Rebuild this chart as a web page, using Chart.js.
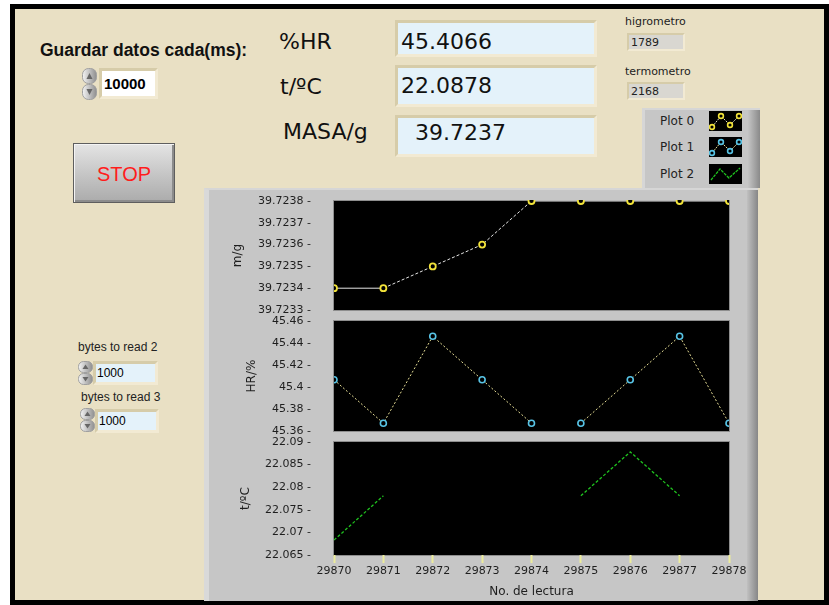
<!DOCTYPE html>
<html>
<head>
<meta charset="utf-8">
<script src="https://cdn.jsdelivr.net/npm/chart.js@4.4.1/dist/chart.umd.min.js"></script>
<style>
  html, body { margin: 0; padding: 0; background: #fff; }
  body { width: 829px; height: 605px; position: relative; overflow: hidden;
         font-family: "Liberation Sans", Arial, sans-serif; color: #111; }
  .abs { position: absolute; }
  .txt { position: absolute; white-space: nowrap; line-height: 1; }
  #frame { left: 10px; top: 4px; width: 819px; height: 601px; border: 5px solid #000;
           box-sizing: border-box; background: #E9E0C4; }
  .ind { position: absolute; box-sizing: border-box; border: 3px solid;
         border-color: #d6cca9 #f2ead3 #f2ead3 #d6cca9; background: #E4F2FA; }
  .ind.grey { background: #d9d7d1; border-width: 2px; }
  .ind.white { background: #fff; }
  .big { font-family: "DejaVu Sans", sans-serif; font-size: 22px; }
  .val { font-family: "DejaVu Sans", sans-serif; font-size: 22px; color: #111; }
  .small { font-family: "DejaVu Sans", sans-serif; font-size: 11px; color: #222; }
  #stop { left: 73px; top: 143px; width: 102px; height: 60px; box-sizing: border-box;
          border: 1px solid #5e5e5e; background: linear-gradient(#e4e4e4, #c4c4c4 55%, #ababab);
          box-shadow: inset 1px 1px 0 #f4f4f4, inset -2px -2px 0 #8c8c8c; }
  #stop span { position: absolute; left: 0; right: 0; top: 20px; text-align: center;
               font-size: 20px; color: #ff1c1c; line-height: 1; }
  #graphPanel { left: 204px; top: 188px; width: 554px; height: 413px; background: #c6c6c6;
                box-sizing: border-box; border-left: 5px solid #d9d9d9; border-top: 2px solid #d6d6d6; }
  #graphPanel .shade { position: absolute; right: 0; top: 0; width: 11px; height: 100%;
                       background: linear-gradient(to right, #c0c0c0, #878787); }
  #legendBox { left: 642px; top: 108px; width: 118px; height: 80px; background: #c6c6c6;
               box-sizing: border-box; border-left: 3px solid #d6d6d6; border-top: 2px solid #d6d6d6; }
  #legendBox .shade { position: absolute; right: 0; top: 0; width: 12px; height: 100%;
                      background: linear-gradient(to right, #c4c4c4, #8a8a8a); }
  .legTxt { font-family: "DejaVu Sans", sans-serif; font-size: 12px; color: #222; }
  canvas { position: absolute; }
</style>
</head>
<body>
<div id="frame" class="abs"></div>

<!-- left-hand controls -->
<div class="txt" style="left:40px;top:42px;font-weight:bold;font-size:17.5px;">Guardar datos cada(ms):</div>
<svg class="abs" style="left:82px;top:68px" width="15" height="32" viewBox="0 0 15 32">
  <defs><linearGradient id="spinGrad" x1="0" x2="1"><stop offset="0" stop-color="#f4f4f4"/><stop offset="1" stop-color="#8e8e8e"/></linearGradient></defs>
  <rect x="0.5" y="0.5" width="14" height="15" rx="6" fill="url(#spinGrad)" stroke="#a0a0a0"/>
  <rect x="0.5" y="16.5" width="14" height="15" rx="6" fill="url(#spinGrad)" stroke="#a0a0a0"/>
  <path d="M4.5 11 L7.5 5 L10.5 11Z" fill="#666"/>
  <path d="M4.5 21 L7.5 27 L10.5 21Z" fill="#666"/>
</svg>
<div class="ind white" style="left:99px;top:68px;width:59px;height:31px;"></div>
<div class="txt" style="left:104px;top:76px;font-size:15px;font-weight:bold;color:#000;">10000</div>

<div id="stop" class="abs"><span>STOP</span></div>

<div class="txt" style="left:78px;top:341px;font-size:12px;color:#222;">bytes to read 2</div>
<svg class="abs" style="left:78px;top:361px" width="15" height="24" viewBox="0 0 15 24">
  <rect x="0.5" y="0.5" width="14" height="11" rx="5" fill="url(#spinGrad)" stroke="#a0a0a0"/>
  <rect x="0.5" y="12.5" width="14" height="11" rx="5" fill="url(#spinGrad)" stroke="#a0a0a0"/>
  <path d="M4.5 8 L7.5 3.5 L10.5 8Z" fill="#666"/>
  <path d="M4.5 16 L7.5 20.5 L10.5 16Z" fill="#666"/>
</svg>
<div class="ind" style="left:93px;top:361px;width:65px;height:24px;"></div>
<div class="txt" style="left:97px;top:367px;font-size:12px;color:#000;">1000</div>

<div class="txt" style="left:81px;top:391px;font-size:12px;color:#222;">bytes to read 3</div>
<svg class="abs" style="left:80px;top:408px" width="15" height="24" viewBox="0 0 15 24">
  <rect x="0.5" y="0.5" width="14" height="11" rx="5" fill="url(#spinGrad)" stroke="#a0a0a0"/>
  <rect x="0.5" y="12.5" width="14" height="11" rx="5" fill="url(#spinGrad)" stroke="#a0a0a0"/>
  <path d="M4.5 8 L7.5 3.5 L10.5 8Z" fill="#666"/>
  <path d="M4.5 16 L7.5 20.5 L10.5 16Z" fill="#666"/>
</svg>
<div class="ind" style="left:95px;top:409px;width:64px;height:24px;"></div>
<div class="txt" style="left:99px;top:415px;font-size:12px;color:#000;">1000</div>

<!-- readouts -->
<div class="txt big" style="left:279px;top:31px;">%HR</div>
<div class="txt big" style="left:280px;top:76px;">t/ºC</div>
<div class="txt big" style="left:283px;top:121px;">MASA/g</div>

<div class="ind" style="left:395px;top:20px;width:202px;height:37px;"></div>
<div class="txt val" style="left:401px;top:31px;">45.4066</div>
<div class="ind" style="left:395px;top:65px;width:202px;height:42px;"></div>
<div class="txt val" style="left:401px;top:75px;">22.0878</div>
<div class="ind" style="left:395px;top:115px;width:202px;height:42px;"></div>
<div class="txt val" style="left:415px;top:122px;">39.7237</div>

<div class="txt small" style="left:625px;top:16px;">higrometro</div>
<div class="ind grey" style="left:627px;top:33px;width:58px;height:18px;"></div>
<div class="txt small" style="left:631px;top:37px;">1789</div>
<div class="txt small" style="left:625px;top:66px;">termometro</div>
<div class="ind grey" style="left:627px;top:82px;width:58px;height:18px;"></div>
<div class="txt small" style="left:631px;top:86px;">2168</div>

<!-- plot legend -->
<div id="legendBox" class="abs"><div class="shade"></div></div>
<div class="txt legTxt" style="left:660px;top:115px;">Plot 0</div>
<div class="txt legTxt" style="left:660px;top:141px;">Plot 1</div>
<div class="txt legTxt" style="left:660px;top:168px;">Plot 2</div>
<svg class="abs" style="left:709px;top:111px" width="33" height="20" viewBox="0 0 33 20">
  <rect width="33" height="20" fill="#000"/>
  <polyline points="3,16 12,5 21,14 30,5" fill="none" stroke="#e6e2c0" stroke-width="1" stroke-dasharray="2 1"/>
  <g fill="#000" stroke="#f2e33a" stroke-width="1.6"><circle cx="3" cy="16" r="2.4"/><circle cx="12" cy="5" r="2.4"/><circle cx="21" cy="14" r="2.4"/><circle cx="30" cy="5" r="2.4"/></g>
</svg>
<svg class="abs" style="left:709px;top:137px" width="33" height="20" viewBox="0 0 33 20">
  <rect width="33" height="20" fill="#000"/>
  <polyline points="3,16 12,5 21,14 30,5" fill="none" stroke="#e4dc94" stroke-width="1" stroke-dasharray="2 1"/>
  <g fill="#000" stroke="#58c4e6" stroke-width="1.6"><circle cx="3" cy="16" r="2.4"/><circle cx="12" cy="5" r="2.4"/><circle cx="21" cy="14" r="2.4"/><circle cx="30" cy="5" r="2.4"/></g>
</svg>
<svg class="abs" style="left:709px;top:164px" width="33" height="20" viewBox="0 0 33 20">
  <rect width="33" height="20" fill="#000"/>
  <polyline points="2,16 11,5 20,14 31,4" fill="none" stroke="#1fc21f" stroke-width="1.3" stroke-dasharray="3 1"/>
</svg>

<!-- strip chart panel -->
<div id="graphPanel" class="abs"><div class="shade"></div></div>
<canvas id="massChart" width="556" height="130" style="left:204px;top:188px"></canvas>
<canvas id="humidityChart" width="556" height="126" style="left:204px;top:312px"></canvas>
<canvas id="temperatureChart" width="556" height="168" style="left:204px;top:433px"></canvas>

<script>
// Reading numbers along the shared x axis
const readings = [29870, 29871, 29872, 29873, 29874, 29875, 29876, 29877, 29878];

// Logged series (null = no sample logged)
const massValues = [39.7234, 39.7234, 39.7235, 39.7236, 39.7238, 39.7238, 39.7238, 39.7238, 39.7238];
const humidityValues = [45.4066, 45.3671, 45.4461, 45.4066, 45.3671, 45.3671, 45.4066, 45.4461, 45.3671];
const temperatureValues = [22.0683, 22.0781, null, null, null, 22.0781, 22.0878, 22.0781, null];

// Y tick values of each strip
const massTicks = [39.7233, 39.7234, 39.7235, 39.7236, 39.7237, 39.7238];
const humidityTicks = [45.36, 45.38, 45.4, 45.42, 45.44, 45.46];
const temperatureTicks = [22.065, 22.07, 22.075, 22.08, 22.085, 22.09];

const axisTitles = { mass: 'm/g', humidity: 'HR/%', temperature: 't/ºC', x: 'No. de lectura' };

const tickFont = { family: 'DejaVu Sans', size: 11 };
const titleFont = { family: 'DejaVu Sans', size: 12 };
const textColor = '#1e1e1e';

// Black plot area with a thin grey frame
const plotBackground = {
  id: 'plotBackground',
  beforeDraw(chart) {
    const { ctx, chartArea: a } = chart;
    ctx.save();
    ctx.fillStyle = '#000';
    ctx.fillRect(a.left, a.top, a.right - a.left, a.bottom - a.top);
    ctx.strokeStyle = '#8e8e8e';
    ctx.lineWidth = 1;
    ctx.strokeRect(a.left - 0.5, a.top - 0.5, a.right - a.left + 1, a.bottom - a.top + 1);
    ctx.restore();
  }
};

const isFlat = c => c.p0.parsed.y === c.p1.parsed.y;

// Fixed-size axis boxes so the three strips share the same plot edges
const fixYAxis = s => {
  s.width = 130;
  s.paddingTop = 0; s.paddingBottom = 0;
};
const fixXAxis = s => {
  s.height = 46;
  s.paddingLeft = 0; s.paddingRight = 0;
};

function stripChart(canvasId, opt) {
  return new Chart(document.getElementById(canvasId), {
    type: 'line',
    data: { labels: readings, datasets: [opt.dataset] },
    options: {
      responsive: false,
      animation: false,
      devicePixelRatio: 1,
      events: [],
      layout: { padding: opt.padding },
      plugins: { legend: { display: false }, tooltip: { enabled: false } },
      scales: {
        x: opt.x || { type: 'category', display: false },
        y: {
          type: 'linear',
          min: opt.ticks[0],
          max: opt.ticks[opt.ticks.length - 1],
          afterBuildTicks: s => { s.ticks = opt.ticks.map(v => ({ value: v })); },
          afterFit: fixYAxis,
          grid: { display: false, drawTicks: false },
          border: { display: false },
          ticks: { font: tickFont, color: textColor, padding: 23, callback: v => v + ' -' },
          title: { display: true, text: opt.title, font: titleFont, color: textColor,
                   padding: { top: opt.titlePad, bottom: 0 } }
        }
      }
    },
    plugins: [plotBackground]
  });
}

stripChart('massChart', {
  ticks: massTicks,
  title: axisTitles.mass,
  titlePad: 27,
  padding: { left: 0, top: 13, right: 31, bottom: 8 },
  dataset: {
    data: massValues,
    borderColor: '#e6e6e6',
    borderWidth: 1,
    segment: { borderDash: c => isFlat(c) ? [] : [3, 2] },
    pointRadius: 3,
    pointBorderWidth: 1.8,
    pointBorderColor: '#f2e33a',
    pointBackgroundColor: '#000',
    tension: 0,
    clip: { left: 0, top: 1, right: 0, bottom: 0 }
  }
});

stripChart('humidityChart', {
  ticks: humidityTicks,
  title: axisTitles.humidity,
  titlePad: 41,
  padding: { left: 0, top: 9, right: 31, bottom: 7 },
  dataset: {
    data: humidityValues,
    borderColor: '#e4dc94',
    borderWidth: 1,
    borderDash: [2, 2],
    segment: { borderColor: c => isFlat(c) ? 'rgba(0,0,0,0)' : undefined },
    pointRadius: 3,
    pointBorderWidth: 1.6,
    pointBorderColor: '#58c4e6',
    pointBackgroundColor: '#000',
    tension: 0,
    clip: 0
  }
});

stripChart('temperatureChart', {
  ticks: temperatureTicks,
  title: axisTitles.temperature,
  titlePad: 35,
  padding: { left: 0, top: 9, right: 31, bottom: 0 },
  x: {
    type: 'category',
    afterFit: fixXAxis,
    grid: { display: true, drawOnChartArea: false, drawTicks: true, tickLength: 8,
            tickWidth: 2, tickColor: '#ecec9c', offset: false },
    border: { display: false },
    ticks: { font: tickFont, color: textColor, padding: 2, maxRotation: 0, autoSkip: false },
    title: { display: true, text: axisTitles.x, font: titleFont, color: textColor,
             padding: { top: 0, bottom: 2 } }
  },
  dataset: {
    data: temperatureValues,
    borderColor: '#1fc21f',
    borderWidth: 1.3,
    borderDash: [3, 2],
    pointRadius: 0,
    spanGaps: false,
    tension: 0,
    clip: 0
  }
});
</script>
</body>
</html>
